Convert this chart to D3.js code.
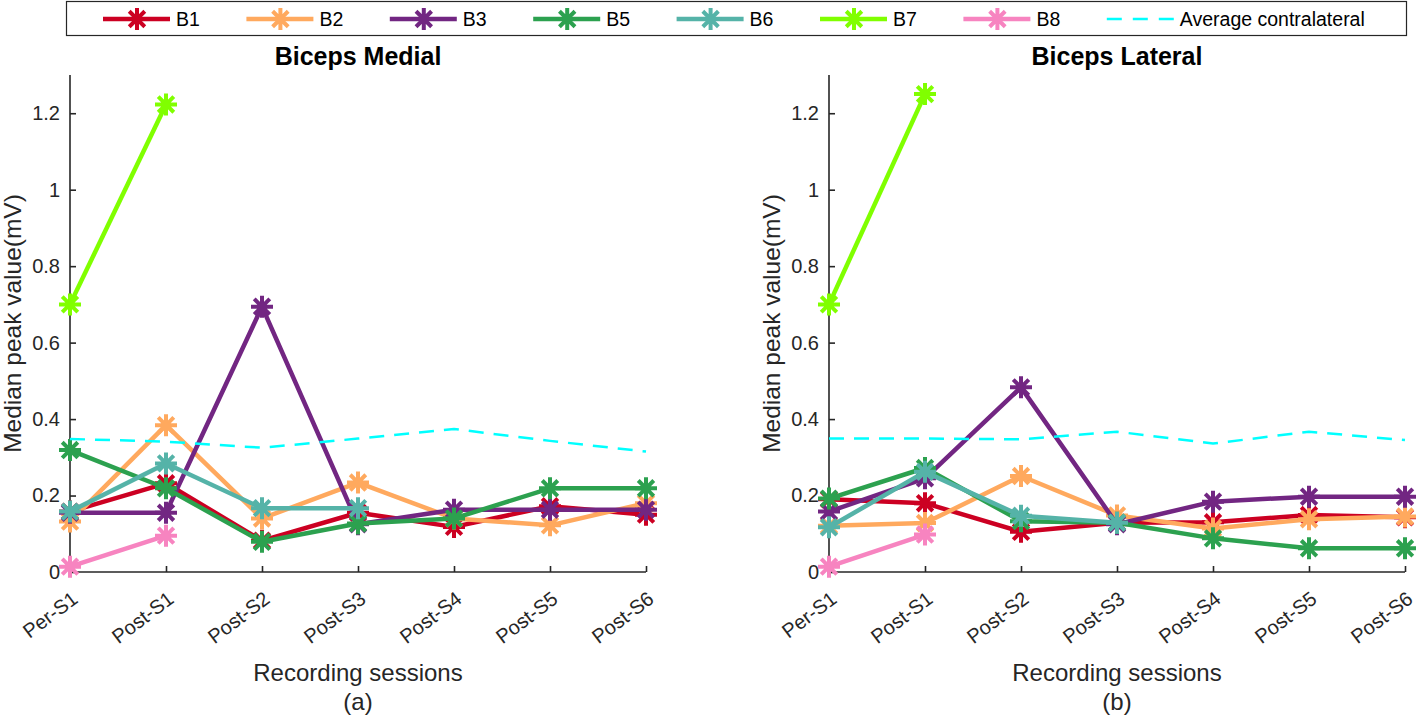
<!DOCTYPE html>
<html><head><meta charset="utf-8">
<script src="https://cdn.jsdelivr.net/npm/d3@7"></script>
<style>
body{margin:0;background:#fff;}
svg{display:block;font-family:"Liberation Sans",Arial,sans-serif;}
</style></head><body>
<svg id="c" width="1418" height="718"></svg>
<script>
const sessions = ["Per-S1","Post-S1","Post-S2","Post-S3","Post-S4","Post-S5","Post-S6"];
const yTicks = [0,0.2,0.4,0.6,0.8,1,1.2];
const seriesNames = ["B1","B2","B3","B5","B6","B7","B8"];
const seriesColors = ["#cc0022","#ffa95e","#722682","#2ca14f","#55b3a8","#80ff00","#f784c0"];
const avgColor = "#00ffff";

// Biceps Medial
const medB1 = [0.158,0.232,0.082,0.155,0.118,0.172,0.150];
const medB2 = [0.132,0.384,0.140,0.234,0.140,0.122,0.180];
const medB3 = [0.155,0.155,0.694,0.125,0.163,0.163,0.163];
const medB5 = [0.319,0.219,0.079,0.127,0.140,0.219,0.219];
const medB6 = [0.158,0.284,0.167,0.167];
const medB7 = [0.70,1.223];
const medB8 = [0.014,0.095];
const medAvg = [0.348,0.341,0.325,0.349,0.374,0.343,0.315];

// Biceps Lateral
const latB1 = [0.190,0.180,0.105,0.129,0.130,0.149,0.143];
const latB2 = [0.121,0.128,0.251,0.148,0.114,0.138,0.145];
const latB3 = [0.158,0.245,0.483,0.125,0.184,0.197,0.197];
const latB5 = [0.192,0.272,0.133,0.129,0.088,0.062,0.062];
const latB6 = [0.117,0.262,0.147,0.129];
const latB7 = [0.70,1.25];
const latB8 = [0.014,0.098];
const latAvg = [0.349,0.349,0.347,0.367,0.336,0.367,0.345];

const panels = [
  {title:"Biceps Medial", tag:"(a)", x0:70, x1:646, data:[medB1,medB2,medB3,medB5,medB6,medB7,medB8], avg:medAvg},
  {title:"Biceps Lateral", tag:"(b)", x0:829, x1:1405, data:[latB1,latB2,latB3,latB5,latB6,latB7,latB8], avg:latAvg}
];

const svg = d3.select("#c");
const yTop = 75, yBot = 572;
const ink = "#262626";

function star(g, cx, cy, r, color, sw){
  const d = r*Math.SQRT1_2;
  const p = `M${cx-r},${cy}L${cx+r},${cy}M${cx},${cy-r}L${cx},${cy+r}M${cx-d},${cy-d}L${cx+d},${cy+d}M${cx-d},${cy+d}L${cx+d},${cy-d}`;
  g.append("path").attr("d",p).attr("stroke",color).attr("stroke-width",sw).attr("fill","none");
}

panels.forEach(P=>{
  const x = d3.scalePoint().domain(sessions).range([P.x0,P.x1]);
  const y = d3.scaleLinear().domain([0,1.3]).range([yBot,yTop]);
  const g = svg.append("g");

  const yAx = d3.axisLeft(y).tickValues(yTicks).tickSize(-6).tickPadding(10).tickFormat(d=>d===0?"0":(d===1?"1":d3.format(".1f")(d)));
  const gy = g.append("g").attr("transform",`translate(${P.x0},0)`).call(yAx);
  gy.select(".domain").attr("d",`M0,${yTop}V${yBot}`);
  const xAx = d3.axisBottom(x).tickSize(-6).tickFormat("");
  const gx = g.append("g").attr("transform",`translate(0,${yBot})`).call(xAx);
  gx.select(".domain").attr("d",`M${P.x0},0H${P.x1}`);
  [gx,gy].forEach(a=>{a.selectAll("path,line").attr("stroke",ink).attr("stroke-width",1.6);});
  gy.selectAll("text").attr("font-size",20).attr("fill",ink).attr("font-family","Liberation Sans, Arial, sans-serif");

  g.selectAll(".xl").data(sessions).enter().append("text")
    .attr("transform",d=>`translate(${x(d)+5},${yBot+24}) rotate(-37)`)
    .attr("text-anchor","end").attr("dy","0.35em")
    .attr("font-size",20).attr("fill",ink).text(d=>d);

  const line = d3.line().x((d,i)=>x(sessions[i])).y(d=>y(d));
  P.data.forEach((arr,k)=>{
    const sg = g.append("g");
    sg.append("path").datum(arr).attr("d",line).attr("fill","none")
      .attr("stroke",seriesColors[k]).attr("stroke-width",4.5).attr("stroke-linejoin","round");
    arr.forEach((v,i)=>star(sg, x(sessions[i]), y(v), 11, seriesColors[k], 4));
  });
  g.append("path").datum(P.avg).attr("d",line).attr("fill","none")
    .attr("stroke",avgColor).attr("stroke-width",2.5).attr("stroke-dasharray","15,10");

  const cx = (P.x0+P.x1)/2;
  g.append("text").attr("x",cx).attr("y",65).attr("text-anchor","middle")
    .attr("font-size",25).attr("font-weight","bold").attr("fill","#000").text(P.title);
  g.append("text").attr("x",cx).attr("y",681).attr("text-anchor","middle")
    .attr("font-size",24).attr("fill",ink).text("Recording sessions");
  g.append("text").attr("x",cx).attr("y",710).attr("text-anchor","middle")
    .attr("font-size",24).attr("fill",ink).text(P.tag);
  g.append("text").attr("transform",`translate(${P.x0-49},${(yTop+yBot)/2}) rotate(-90)`)
    .attr("text-anchor","middle").attr("font-size",24.5).attr("fill",ink).text("Median peak value(mV)");
});

// legend
const lg = svg.append("g");
lg.append("rect").attr("x",66.5).attr("y",1.5).attr("width",1340).attr("height",34)
  .attr("fill","#fff").attr("stroke",ink).attr("stroke-width",1.2);
const legendNames = seriesNames.concat(["Average contralateral"]);
const legendColors = seriesColors.concat([avgColor]);
legendNames.forEach((n,i)=>{
  const x0 = 103 + i*143.4, ly = 19;
  const isAvg = i===legendNames.length-1;
  lg.append("line").attr("x1",x0).attr("x2",x0+67).attr("y1",ly).attr("y2",ly)
    .attr("stroke",legendColors[i]).attr("stroke-width",isAvg?2.5:4.5)
    .attr("stroke-dasharray",isAvg?"15,11":null);
  if(!isAvg) star(lg, x0+34, ly, 11, legendColors[i], 4);
  lg.append("text").attr("x",x0+73).attr("y",ly).attr("dy","0.36em")
    .attr("font-size",19.5).attr("fill","#000").text(n);
});
</script>
</body></html>
